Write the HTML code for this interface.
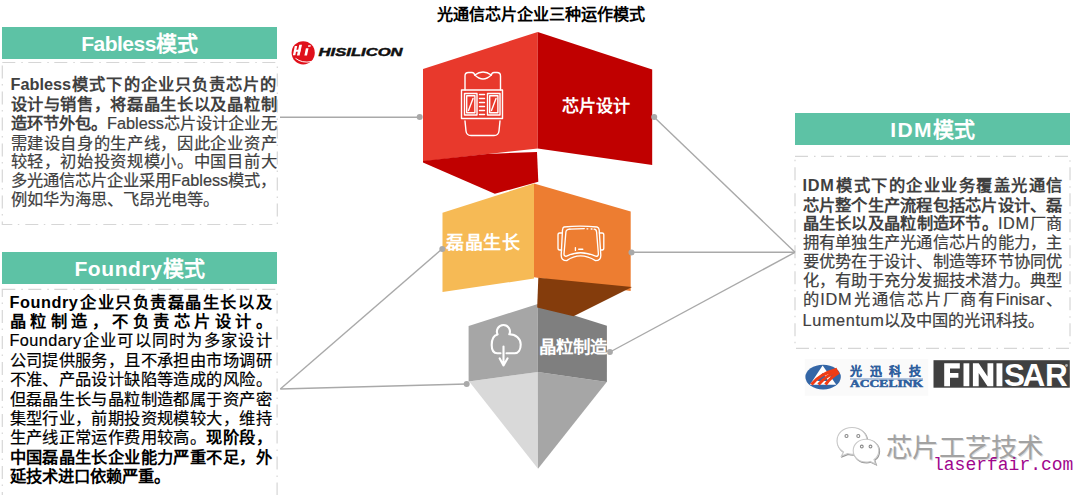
<!DOCTYPE html>
<html lang="zh-CN"><head><meta charset="utf-8">
<style>
*{margin:0;padding:0;box-sizing:border-box}
html,body{width:1080px;height:495px;overflow:hidden;background:#fff}
body{position:relative;font-family:"Liberation Sans",sans-serif}
svg.bg{position:absolute;left:0;top:0}
.t{position:absolute;white-space:nowrap}
.hdr{position:absolute;height:32px;background:#5dc2a5;color:#fff;font-weight:bold;font-size:21px;line-height:34px;text-align:center}
.ln{position:absolute;white-space:nowrap;font-size:16.3px;line-height:19px;height:19px;text-align:justify;text-align-last:justify;-webkit-text-stroke:0.2px currentColor}
.ln.l{text-align:left;text-align-last:left}
.g{color:#404040}
.k{color:#000}
b{font-weight:bold;-webkit-text-stroke:0}
</style></head><body>
<svg class="bg" width="1080" height="495" viewBox="0 0 1080 495">
 <!-- dashed boxes -->
 <g fill="none" stroke="#d6d6d6" stroke-width="1.2" stroke-dasharray="13 6 1.5 5.5">
  <rect x="2.3" y="62.5" width="275" height="162"/>
  <rect x="2.3" y="289.3" width="274.8" height="210"/>
  <rect x="795" y="156.3" width="275" height="192"/>
 </g>
 <!-- connector lines -->
 <g stroke="#a9a9a9" stroke-width="1.4" fill="none">
  <line x1="280" y1="117.3" x2="420" y2="117.3"/>
  <line x1="654" y1="117" x2="795" y2="252.3"/>
  <line x1="631.5" y1="252.3" x2="795" y2="252.3"/>
  <line x1="610" y1="352" x2="795" y2="252.3"/>
  <line x1="280.3" y1="389" x2="442" y2="249"/>
  <line x1="280.3" y1="389" x2="466.7" y2="384"/>
 </g>
 <!-- gray block + cone -->
 <polygon fill="#d9d9d9" points="469.2,381.5 537.8,371.9 538,468.7"/>
 <polygon fill="#a6a6a6" points="537.8,371.9 606.7,381.9 538,468.7"/>
 <polygon fill="#a6a6a6" points="468.6,325.9 537.8,304.1 537.8,371.9 468.6,381.5"/>
 <polygon fill="#7f7f7f" points="537.8,304.1 606.9,325.7 606.9,381.9 537.8,371.9"/>
 <!-- orange block -->
 <polygon fill="#f6ba55" points="442.5,212.8 534,183.5 534,278.6 442.5,291.9"/>
 <polygon fill="#ed7d31" points="534,183.5 630.7,211.4 630.7,291 534,277.2"/>
 <polygon fill="#843c0c" points="538.3,277.8 632,287 573.5,316.2 537.2,307.5"/>
 <!-- red block -->
 <polygon fill="#e8392c" points="423,69 537.7,32 537.7,148.4 423,161.5"/>
 <polygon fill="#c00000" points="537.7,32 652.2,69.5 652.2,165 537.7,148.4"/>
 <polygon fill="#c00000" points="423,161 487,153.9 537,152 538.3,181.7 494.8,193.8 423,162.5"/>
 <!-- dots -->
 <g fill="#a9a9a9">
  <circle cx="419.7" cy="117" r="3"/>
  <circle cx="654.2" cy="117" r="3"/>
  <circle cx="442.3" cy="249" r="3"/>
  <circle cx="631.5" cy="252.4" r="3"/>
  <circle cx="466.7" cy="384" r="3"/>
  <circle cx="609.9" cy="351.9" r="3"/>
 </g>
 <!-- chip icon -->
 <g fill="none" stroke="#fff" stroke-width="1.4" stroke-linejoin="round" stroke-linecap="round">
  <path d="M465,90 V76 Q465,72.5 468.5,72.5 H472 Q474,72.5 474.8,75 Q483,69 491.3,75 Q492,72.5 494,72.5 H497 Q500.5,72.5 500.5,76 V90"/>
  <path d="M474.8,75 Q483,83 491.3,75"/>
  <rect x="461.5" y="90" width="41" height="28.5"/>
  <rect x="464.5" y="93.5" width="12.5" height="21.5"/>
  <rect x="466.7" y="95.8" width="8.2" height="17"/>
  <rect x="487.5" y="93.5" width="12.5" height="21.5"/>
  <rect x="489.7" y="95.8" width="8.2" height="17"/>
  <path d="M468.5,110.5 L473,98.5 M491.5,110.5 L496,98.5"/>
  <path d="M479.5,94.5 H484.5 M479.5,98.5 H484.5 M479.5,102.5 H484.5 M479.5,106.5 H484.5 M479.5,110.5 H484.5 M479.5,114.5 H484.5"/>
  <path d="M465,121 L466,131 Q466.5,135.5 471,135.5 H494 Q498.5,135.5 499,131 L500,121"/>
 </g>
 <!-- VR icon -->
 <g fill="none" stroke="#fff" stroke-width="1.35" stroke-linejoin="round" stroke-linecap="round">
  <path d="M564,227 Q580,225.3 597,227 Q599,227.5 599.2,230 L600.8,255 Q601,260.6 595.5,260.6 Q580,251.2 566.7,260.6 Q561,260.6 561.2,255 L562.5,230 Q562.7,227.5 564,227 Z"/>
  <path d="M569.8,229.1 Q566.2,229.3 565.9,232 L564,254 Q564,256.6 566.6,256.2 Q580,249.3 595.6,256.2 Q598.3,256.6 598.4,254 L596.6,232 Q596.4,229.5 594.2,229.2"/>
  <path d="M569.8,229.1 L584.3,228.6 M587,228.8 H587.8 M591.2,229 H592"/>
  <path d="M562.3,233 H559.6 Q558,233 558,235 V248 Q558,250 559.6,250 H561.6"/>
  <path d="M599.4,233 H602.2 Q603.8,233 603.8,235 V248 Q603.8,250 602.2,250 H600.6"/>
  <path d="M575.4,247.6 V250.4 M578.7,249.2 H582.8"/>
 </g>
 <!-- HiSilicon logo -->
 <circle cx="303.2" cy="52.8" r="11.6" fill="#e0101a"/>
 <g fill="#fff">
  <polygon points="294.8,45.9 297.2,45.9 295.3,55.2 292.9,55.2"/>
  <polygon points="299.3,44.7 302,44.7 299.6,55.6 296.9,55.6"/>
  <polygon points="295.8,49.8 300.6,49.8 300.2,51.8 295.4,51.8"/>
  <polygon points="305.9,48.3 308.5,48.3 307,55.6 304.4,55.6"/>
  <polygon points="308.3,45.2 310.8,45.2 310.5,46.7 308,46.7"/>
 </g>
 <path d="M295.5,58.3 Q302,63.5 311.5,61.5" fill="none" stroke="#fff" stroke-width="1"/>
 <text x="318.6" y="56" font-family="Liberation Sans" font-weight="bold" font-style="italic" font-size="11" fill="#111" stroke="#111" stroke-width="0.45" textLength="84" lengthAdjust="spacingAndGlyphs">HISILICON</text>
 <!-- Accelink logo -->
 <rect x="804.7" y="359" width="123.6" height="36.8" fill="#fafafa"/>
 <ellipse cx="823.1" cy="377.1" rx="17.7" ry="12.4" fill="#3466a6"/>
 <polygon fill="#fff" points="822.6,365.5 809.9,384.7 836.3,384.7"/>
 <polygon fill="#3466a6" points="822.6,373 817,381 828.5,381"/>
 <g fill="none" stroke="#f03c14" stroke-width="3" stroke-linecap="butt">
  <path d="M811.5,384.5 Q820,374 837,369.3"/>
  <path d="M818.5,384.5 Q826,375.5 838,370.8"/>
  <path d="M825.5,384.5 Q831,377 839,372.5"/>
 </g>
 <text x="850" y="375.5" font-family="Liberation Serif, serif" font-weight="bold" font-size="12" fill="#2f5f9e" stroke="#2f5f9e" stroke-width="0.15" letter-spacing="7.5">光迅科技</text>
 <line x1="850" y1="379" x2="923" y2="379" stroke="#6b8fc0" stroke-width="1"/>
 <text x="850" y="387.4" font-family="Liberation Serif" font-weight="bold" font-size="9.5" fill="#2f5f9e" stroke="#2f5f9e" stroke-width="0.5" textLength="73" lengthAdjust="spacingAndGlyphs">ACCELINK</text>
 <!-- Finisar logo -->
 <rect x="933.5" y="360.2" width="136.3" height="27.5" fill="#404040"/>
 <g fill="#fff">
  <polygon points="944.2,363.3 959.8,363.3 959.8,368.4 950,368.4 950,373.1 958.4,373.1 958.4,377.8 950,377.8 950,386.2 944.2,386.2"/>
  <rect x="963.5" y="363.3" width="5.8" height="22.9"/>
  <polygon points="972.9,363.3 978.7,363.3 987.5,376.5 987.5,363.3 993.3,363.3 993.3,386.2 987.5,386.2 978.7,373 978.7,386.2 972.9,386.2"/>
  <rect x="996.5" y="363.3" width="5.9" height="22.9"/>
 </g>
 <text x="1004" y="386.2" font-family="Liberation Sans" font-weight="bold" font-size="31.5" fill="#fff">S</text>
 <text x="1022.5" y="386.2" font-family="Liberation Sans" font-weight="bold" font-size="31.5" fill="#fff">A</text>
 <text x="1045" y="386.2" font-family="Liberation Sans" font-weight="bold" font-size="31.5" fill="#fff">R</text>
 <circle cx="1066.5" cy="365.5" r="1.4" fill="#aaa"/>
 <!-- WeChat icon -->
 <g stroke="#9a9a9a" stroke-width="1.3" fill="none" transform="translate(0.7,0.8)">
  <path d="M852,427.5 C843,427.5 837,433.5 837,441 C837,446 839.5,449.5 843.5,452 L841.5,456 L847.5,453.5 C849,454 850.5,454.2 852,454.2 C861,454.2 867,448 867,441 C867,433.5 861,427.5 852,427.5 Z"/>
  <path d="M866,439.2 C858.5,439.2 853.2,444.5 853.2,450.5 C853.2,456.8 858.5,462 866,462 C867.5,462 868.8,461.8 870,461.4 L875.5,464 L874,459.5 C877.2,457.5 878.8,454.2 878.8,450.5 C878.8,444.5 873.5,439.2 866,439.2 Z"/>
 </g>
 <g stroke="#c8c8c8" stroke-width="1.1" fill="#fff">
  <path d="M852,427.5 C843,427.5 837,433.5 837,441 C837,446 839.5,449.5 843.5,452 L841.5,456 L847.5,453.5 C849,454 850.5,454.2 852,454.2 C861,454.2 867,448 867,441 C867,433.5 861,427.5 852,427.5 Z"/>
  <path d="M866,439.2 C858.5,439.2 853.2,444.5 853.2,450.5 C853.2,456.8 858.5,462 866,462 C867.5,462 868.8,461.8 870,461.4 L875.5,464 L874,459.5 C877.2,457.5 878.8,454.2 878.8,450.5 C878.8,444.5 873.5,439.2 866,439.2 Z"/>
 </g>
 <g fill="none" stroke="#8a8a8a" stroke-width="1.1">
  <circle cx="846.5" cy="436" r="1.5"/><circle cx="858.3" cy="436" r="1.5"/>
  <circle cx="861.8" cy="446.5" r="1.4"/><circle cx="870.5" cy="446.5" r="1.4"/>
 </g>
 <!-- cloud icon -->
 <g fill="none" stroke="#fff" stroke-width="2.1" stroke-linejoin="round" stroke-linecap="round">
  <path d="M500.5,353.2 H497.2 C493.6,353.2 491.7,350 491.7,345 C491.7,339.2 494,335.2 497.6,334.4 A6.5,6.5 0 1 1 509.3,334.3 C516,334.3 520.7,338.6 520.7,344.5 C520.7,350 518.3,353.2 514.8,353.2 H506.5"/>
  <path d="M503.5,346.5 V365.5 M499.6,358.3 L503.5,365.5 L507.6,358.3"/>
 </g>
</svg>

<div class="t" style="left:437px;top:4px;font-size:16.1px;font-weight:bold;color:#000;line-height:20px">光通信芯片企业三种运作模式</div>

<!-- headers -->
<div class="hdr" style="left:2px;top:27px;width:275px"><span style="letter-spacing:-0.5px">Fabless</span>模式</div>
<div class="hdr" style="left:2px;top:252px;width:275px"><span style="letter-spacing:0.6px">Foundry</span>模式</div>
<div class="hdr" style="left:795px;top:112.5px;width:275px"><span style="letter-spacing:1.3px">IDM</span>模式</div>

<!-- Fabless text -->
<div class="g">
<div class="ln" style="left:10.5px;top:74.5px;width:266px"><b>Fabless模式下的企业只负责芯片的</b></div>
<div class="ln" style="left:10.5px;top:95px;width:266px"><b>设计与销售，将磊晶生长以及晶粒制</b></div>
<div class="ln" style="left:10.5px;top:114px;width:266px"><b>造环节外包。</b>Fabless芯片设计企业无</div>
<div class="ln" style="left:10.5px;top:133.5px;width:266px">需建设自身的生产线，因此企业资产</div>
<div class="ln" style="left:10.5px;top:151.5px;width:266px">较轻，初始投资规模小。中国目前大</div>
<div class="ln" style="left:10.5px;top:170.6px;width:266px">多光通信芯片企业采用Fabless模式，</div>
<div class="ln l" style="left:10.5px;top:190.3px;width:266px">例如华为海思、飞昂光电等。</div>
</div>

<!-- Foundry text -->
<div class="k">
<div class="ln" style="left:9.5px;top:293px;width:262px"><b><span style="letter-spacing:0.55px">Foundry</span>企业只负责磊晶生长以及</b></div>
<div class="ln" style="left:9.5px;top:312px;width:262px"><b>晶粒制造，不负责芯片设计。</b></div>
<div class="ln" style="left:9.5px;top:331px;width:262px"><span style="letter-spacing:0.4px">Foundary</span>企业可以同时为多家设计</div>
<div class="ln" style="left:9.5px;top:350.5px;width:262px">公司提供服务，且不承担由市场调研</div>
<div class="ln" style="left:9.5px;top:369.5px;width:262px">不准、产品设计缺陷等造成的风险。</div>
<div class="ln" style="left:9.5px;top:389.5px;width:262px">但磊晶生长与晶粒制造都属于资产密</div>
<div class="ln" style="left:9.5px;top:408.8px;width:262px">集型行业，前期投资规模较大，维持</div>
<div class="ln" style="left:9.5px;top:427.7px;width:262px">生产线正常运作费用较高。<b>现阶段，</b></div>
<div class="ln" style="left:9.5px;top:447.8px;width:262px"><b>中国磊晶生长企业能力严重不足，外</b></div>
<div class="ln l" style="left:9.5px;top:466.8px;width:262px"><b>延技术进口依赖严重。</b></div>
</div>

<!-- IDM text -->
<div class="g">
<div class="ln" style="left:802.6px;top:175.8px;width:259.8px"><b><span style="letter-spacing:0.7px">IDM</span>模式下的企业业务覆盖光通信</b></div>
<div class="ln" style="left:802.6px;top:195.8px;width:259.8px"><b>芯片整个生产流程包括芯片设计、磊</b></div>
<div class="ln" style="left:802.6px;top:213.8px;width:259.8px"><b>晶生长以及晶粒制造环节。</b><span style="letter-spacing:0.7px">IDM</span>厂商</div>
<div class="ln" style="left:802.6px;top:233.2px;width:259.8px">拥有单独生产光通信芯片的能力，主</div>
<div class="ln" style="left:802.6px;top:252.3px;width:259.8px">要优势在于设计、制造等环节协同优</div>
<div class="ln" style="left:802.6px;top:270.8px;width:259.8px">化，有助于充分发掘技术潜力。典型</div>
<div class="ln" style="left:802.6px;top:289.9px;width:259.8px">的<span style="letter-spacing:0.7px">IDM</span>光通信芯片厂商有Finisar、</div>
<div class="ln l" style="left:802.6px;top:311.2px;width:259.8px"><span style="letter-spacing:0.6px">Lumentum</span>以及中国的光讯科技。</div>
</div>

<!-- block labels -->
<div class="t" style="left:562px;top:97px;font-size:17px;font-weight:bold;color:#fff;line-height:20px">芯片设计</div>
<div class="t" style="left:446px;top:233px;font-size:18px;font-weight:bold;color:#fff;line-height:20px;letter-spacing:0.5px">磊晶生长</div>
<div class="t" style="left:539px;top:337px;font-size:17.5px;font-weight:bold;color:#fff;line-height:21px;letter-spacing:-0.1px">晶粒制造</div>

<!-- watermark -->
<div class="t" style="left:886px;top:431.5px;font-size:26.5px;color:#a2a2a2;line-height:32px;letter-spacing:0.3px;text-shadow:1px 1px 0 #dcdcdc">芯片工艺技术</div>
<div class="t" style="left:933px;top:453.5px;font-family:'Liberation Mono',monospace;font-size:18px;color:#a0068d;line-height:22px">laserfair.com</div>

</body></html>
